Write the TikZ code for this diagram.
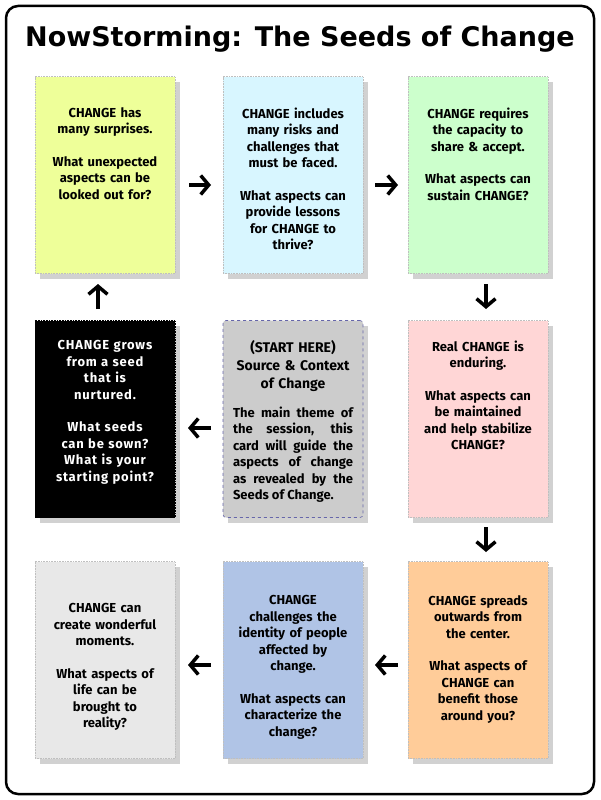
\documentclass[tikz,border=0pt]{standalone}
\usepackage{fontspec}
\setmainfont{Fira Sans}
\newfontfamily\titlefont{DejaVu Sans}
\usetikzlibrary{arrows.meta}
\definecolor{c1}{HTML}{EEFF99}
\definecolor{c2}{HTML}{D8F6FF}
\definecolor{c3}{HTML}{CCFFCC}
\definecolor{c4}{HTML}{FFD6D6}
\definecolor{c6}{HTML}{CCCCCC}
\definecolor{c7}{HTML}{FFCC99}
\definecolor{c8}{HTML}{B0C4E6}
\definecolor{c9}{HTML}{E8E8E8}
\definecolor{dash6}{HTML}{6666AA}
\tikzset{
 card/.style={minimum width=140pt,minimum height=197pt,draw=gray!50,densely dotted,line width=0.6pt,inner sep=0pt},
 shad/.style={fill=black,opacity=0.18,minimum width=140pt,minimum height=197pt,inner sep=0pt},
 txt/.style={text width=130pt,align=center,font=\bfseries\fontsize{13}{16.5}\selectfont},
 arr/.style={line width=3.5pt,-{Straight Barb[length=8pt,width=19pt,line width=3.5pt]}}
}
\begin{document}
\begin{tikzpicture}[x=1pt,y=-1pt]
\useasboundingbox (0,0) rectangle (600,800);
\draw[line width=2.5pt,rounded corners=12pt] (6,6) rectangle (594,794);
\node[font=\titlefont\bfseries\fontsize{27}{31}\selectfont] (title) at (300,39) {NowStorming: The Seeds of Change};
% shadows
\foreach \x/\y in {105/175,293/175,478/175,105/419,293/419,478/419,105/660,293/660,478/660}{
 \node[shad] at (\x+5,\y+5) {};}
\node[card,fill=c1] (k1) at (105,175) {};
\node[card,fill=c2] (k2) at (293,175) {};
\node[card,fill=c3] (k3) at (478,175) {};
\node[card,fill=black,draw=black] (k5) at (105,419) {};
\node[card,fill=c6,draw=dash6,dashed,rounded corners=3pt] (k6) at (293,419) {};
\node[card,fill=c4] (k4) at (478,419) {};
\node[card,fill=c9] (k9) at (105,660) {};
\node[card,fill=c8] (k8) at (293,660) {};
\node[card,fill=c7] (k7) at (478,660) {};
\node[txt,anchor=north] (t1) at (105,104) {CHANGE has\\many surprises.\\[16pt]What unexpected\\aspects can be\\looked out for?};
\node[txt,anchor=north] (t2) at (293,104) {CHANGE includes\\many risks and\\challenges that\\must be faced.\\[16pt]What aspects can\\provide lessons\\for CHANGE to\\thrive?};
\node[txt,anchor=north] (t3) at (478,104) {CHANGE requires\\the capacity to\\share \& accept.\\[16pt]What aspects can\\sustain CHANGE?};
\node[txt,anchor=north,text=white,font=\addfontfeatures{LetterSpace=6}\bfseries\fontsize{13}{16.5}\selectfont] (t5) at (105,337) {CHANGE grows\\from a seed\\that is\\nurtured.\\[16pt]What seeds\\can be sown?\\What is your\\starting point?};
\node[txt,anchor=north,font=\bfseries\fontsize{14}{18}\selectfont] (t6a) at (293,337) {(START HERE)\\Source \& Context\\of Change};
\node[txt,anchor=north,align=justify,text width=120pt] (t6b) at (293,403) {The main theme of the session, this card will guide the aspects of change as revealed by the Seeds of Change.};
\node[txt,anchor=north] (t4) at (478,337) {Real CHANGE is\\enduring.\\[16pt]What aspects can\\be maintained\\and help stabilize\\CHANGE?};
\node[txt,anchor=north] (t9) at (105,600) {CHANGE can\\create wonderful\\moments.\\[16pt]What aspects of\\life can be\\brought to\\reality?};
\node[txt,anchor=north] (t8) at (293,592) {CHANGE\\challenges the\\identity of people\\affected by\\change.\\[16pt]What aspects can\\characterize the\\change?};
\node[txt,anchor=north] (t7) at (478,592) {CHANGE spreads\\outwards from\\the center.\\[16pt]What aspects of\\CHANGE can\\benefit those\\around you?};
\coordinate (a1) at (189,185); \coordinate (b1) at (211,185);
\coordinate (a2) at (375,185); \coordinate (b2) at (398,185);
\coordinate (a3) at (486,284); \coordinate (b3) at (486,309);
\coordinate (a4) at (486,527); \coordinate (b4) at (486,552);
\coordinate (a5) at (398,665); \coordinate (b5) at (375,665);
\coordinate (a6) at (211,665); \coordinate (b6) at (188,665);
\coordinate (a7) at (211,428); \coordinate (b7) at (188,428);
\coordinate (a8) at (98,309); \coordinate (b8) at (98,284);
\foreach \i in {1,...,8}{\draw[arr] (a\i) -- (b\i);}
\end{tikzpicture}
\end{document}
